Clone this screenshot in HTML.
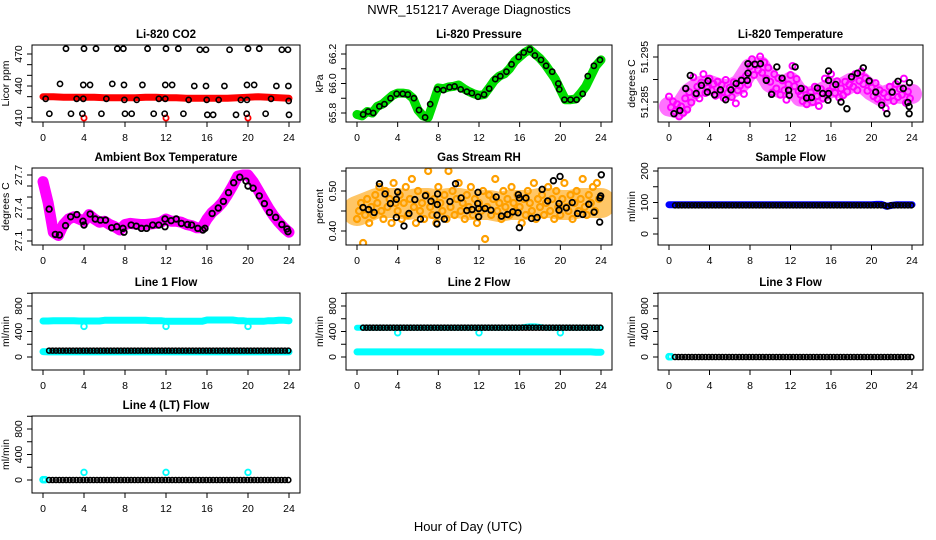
<!DOCTYPE html>
<html><head><meta charset="utf-8"><style>
html,body{margin:0;padding:0;background:#fff;}
svg{display:block;font-family:"Liberation Sans",sans-serif;}
</style></head><body>
<svg id="c" width="936" height="540" viewBox="0 0 936 540" xmlns="http://www.w3.org/2000/svg">
<text x="469" y="14" text-anchor="middle" font-size="13">NWR_151217  Average Diagnostics</text>
<text x="468" y="531" text-anchor="middle" font-size="13">Hour of Day (UTC)</text>
</svg>
<script>
// ---------- data ----------
const xTicks = [0,4,8,12,16,20,24];

const co2TopH = [2.24,4.0,5.17,7.25,7.84,10.2,12.0,13.2,15.3,15.9,18.2,20.0,21.1,23.3,23.9];
const co2TopV = [475,475,475,475,475,475,475,475,474,474,474,475,475,474,474];
const co2HiH = [1.66,3.93,4.59,6.76,7.9,9.7,11.93,12.6,14.76,15.9,17.7,19.9,20.6,22.77,23.94];
const co2HiV = [442,441,441,442,441,441,441,441,440,440,440,441,441,440,440];
const co2MidH = [0.26,3.28,3.93,6.18,7.94,9.14,11.3,11.93,14.21,15.97,17.14,19.3,19.9,22.25,23.97];
const co2MidV = [428,428,428,428,427,427,428,428,427,427,427,427,427,428,426];
const co2LowH = [0.62,2.73,3.84,5.7,8.0,8.65,10.8,11.87,13.7,16.03,16.6,18.83,19.87,21.72,24.0];
const co2LowV = [414,414,414,414,414,414,414,414,414,413,413,413,414,414,413];
const co2RedH = [0,1,2,3,4,5,6,7,8,9,10,11,12,13,14,15,16,17,18,19,20,21,22,23,24];
const co2RedV = [430,430,429.5,429.5,429.5,429.5,429,429,429,429,429.5,429.5,429,429,428.5,428.5,428.5,428.5,428.5,429,429.5,430,429.5,429,428.5];
const co2CalH = [4,12,20];
const co2CalV = [410,410,410];

const presGreen = [65.79,65.78,65.81,65.80,65.845,65.86,65.89,65.92,65.935,65.935,65.93,65.90,65.82,65.78,65.77,65.87,65.97,65.965,65.976,65.98,65.99,65.965,65.946,65.93,65.92,65.925,65.97,66.02,66.05,66.065,66.10,66.15,66.18,66.21,66.23,66.20,66.17,66.13,66.08,66.03,65.96,65.89,65.89,65.895,65.935,65.98,66.05,66.12,66.16];
const presBlkH = [0.6,1.1,1.6,2.2,2.7,3.3,3.9,4.5,5.0,5.6,6.1,6.7,7.2,7.9,8.5,9.1,9.6,10.2,10.8,11.3,11.9,12.5,13.0,13.6,14.1,14.7,15.2,15.9,16.4,17.0,17.5,18.1,18.6,19.2,19.8,19.9,20.4,21.0,21.6,22.2,22.7,23.3,23.9];
const presBlkV = [65.79,65.81,65.80,65.845,65.86,65.90,65.93,65.93,65.925,65.90,65.82,65.77,65.86,65.96,65.955,65.975,65.98,65.96,65.945,65.935,65.91,65.925,65.965,66.03,66.05,66.08,66.13,66.18,66.21,66.23,66.19,66.16,66.12,66.08,66.00,65.96,65.89,65.89,65.89,65.93,66.05,66.12,66.16];

const tempCenter = [51.2840,51.2835,51.2870,51.2885,51.2888,51.2880,51.2878,51.2890,51.2925,51.2930,51.2893,51.2880,51.2895,51.2862,51.2862,51.2870,51.2882,51.2880,51.2893,51.2895,51.2875,51.2862,51.2870,51.2868,51.2868];
const tempPinkV = [51.2862,51.2838,51.2851,51.2829,51.2845,51.2818,51.2840,51.2826,51.2858,51.2833,51.2872,51.2849,51.2905,51.2866,51.2884,51.2858,51.2893,51.2912,51.2870,51.2881,51.2902,51.2876,51.2890,51.2864,51.2895,51.2873,51.2888,51.2859,51.2899,51.2870,51.2882,51.2861,51.2894,51.2847,51.2876,51.2886,51.2900,51.2868,51.2908,51.2889,51.2929,51.2945,51.2910,51.2932,51.2921,51.2951,51.2915,51.2938,51.2902,51.2926,51.2895,51.2871,51.2912,51.2880,51.2903,51.2866,51.2898,51.2876,51.2855,51.2889,51.2910,51.2930,51.2885,51.2901,51.2874,51.2866,51.2852,51.2878,51.2845,51.2862,51.2871,51.2850,51.2884,51.2863,51.2841,51.2879,51.2858,51.2902,51.2866,51.2874,51.2912,51.2885,51.2870,51.2896,51.2860,51.2880,51.2865,51.2895,51.2873,51.2889,51.2901,51.2884,51.2912,51.2876,51.2897,51.2918,51.2890,51.2903,51.2875,51.2894,51.2882,51.2863,51.2892,51.2857,51.2876,51.2849,51.2870,51.2836,51.2861,51.2884,51.2872,51.2852,51.2890,51.2861,51.2879,51.2866,51.2902,51.2848,51.2873,51.2858];
const tempBlkH = [0.49,1.07,1.65,2.10,2.69,3.20,3.85,3.79,4.50,5.08,5.60,6.12,6.63,7.15,7.73,7.80,7.80,8.48,9.03,9.61,10.13,10.65,11.17,11.81,11.88,12.46,13.04,13.59,14.08,14.66,15.18,15.70,15.76,15.76,15.76,16.47,16.99,17.57,18.03,18.61,19.19,19.77,20.42,21.00,21.52,22.04,22.62,23.14,23.59,23.72,23.75,23.72];
const tempBlkV = [51.2824,51.2831,51.2880,51.2909,51.2869,51.2887,51.2897,51.2872,51.2866,51.2877,51.2855,51.2877,51.2891,51.2898,51.2898,51.2914,51.2935,51.2934,51.2935,51.2898,51.2867,51.2928,51.2903,51.2876,51.2865,51.2928,51.2880,51.2859,51.2860,51.2881,51.2869,51.2854,51.2869,51.2898,51.2919,51.2889,51.2850,51.2835,51.2906,51.2914,51.2926,51.2897,51.2872,51.2843,51.2824,51.2872,51.2896,51.2880,51.2849,51.2824,51.2893,51.2840];

const ambPink = [27.64,27.45,27.18,27.15,27.25,27.30,27.32,27.30,27.28,27.34,27.30,27.27,27.28,27.25,27.23,27.20,27.25,27.26,27.255,27.25,27.25,27.255,27.26,27.27,27.30,27.28,27.28,27.27,27.25,27.24,27.22,27.22,27.30,27.36,27.40,27.45,27.52,27.60,27.69,27.70,27.70,27.64,27.56,27.48,27.40,27.33,27.27,27.22,27.18];
const ambBlkH = [0.6,1.2,1.6,2.2,2.7,3.3,3.9,4.0,4.6,5.1,5.6,6.1,6.7,7.2,7.8,7.9,8.6,9.1,9.6,10.1,10.7,11.3,11.9,11.9,12.5,13.0,13.5,14.1,14.5,15.1,15.6,15.8,16.5,17.1,17.6,18.1,18.6,19.2,19.8,20.0,20.5,21.1,21.6,22.1,22.7,23.3,23.8,23.9];
const ambBlkV = [27.39,27.16,27.155,27.24,27.32,27.34,27.28,27.245,27.345,27.30,27.29,27.29,27.22,27.23,27.215,27.18,27.245,27.235,27.215,27.215,27.245,27.245,27.30,27.23,27.285,27.30,27.26,27.25,27.245,27.215,27.20,27.215,27.35,27.40,27.46,27.54,27.63,27.68,27.645,27.60,27.58,27.51,27.44,27.36,27.315,27.25,27.21,27.185];

const rhCenter = [0.45,0.46,0.47,0.47,0.47,0.465,0.47,0.47,0.465,0.47,0.47,0.465,0.465,0.465,0.46,0.465,0.465,0.465,0.47,0.47,0.465,0.465,0.47,0.47,0.47];
const rhOrange = [0.43,0.45,0.47,0.37,0.44,0.48,0.42,0.46,0.44,0.49,0.47,0.51,0.45,0.43,0.50,0.46,0.48,0.42,0.52,0.47,0.45,0.49,0.43,0.47,0.51,0.44,0.48,0.53,0.46,0.42,0.50,0.45,0.47,0.43,0.49,0.55,0.46,0.44,0.48,0.42,0.51,0.47,0.45,0.49,0.43,0.55,0.46,0.50,0.44,0.48,0.52,0.45,0.47,0.43,0.49,0.46,0.51,0.44,0.48,0.42,0.47,0.45,0.50,0.38,0.46,0.49,0.44,0.48,0.53,0.45,0.47,0.43,0.50,0.46,0.48,0.44,0.51,0.47,0.45,0.49,0.46,0.42,0.48,0.44,0.50,0.47,0.45,0.52,0.43,0.48,0.46,0.49,0.44,0.47,0.51,0.45,0.48,0.43,0.50,0.46,0.44,0.48,0.52,0.46,0.45,0.49,0.43,0.47,0.50,0.45,0.48,0.53,0.46,0.44,0.49,0.47,0.51,0.45,0.52,0.48];
const rhBlkH = [0.59,1.14,1.69,2.21,2.76,3.28,3.87,4.0,3.87,4.62,5.11,5.69,6.24,6.73,7.28,7.93,7.90,7.87,7.87,8.59,9.14,9.69,10.24,10.80,11.32,11.90,11.87,11.97,11.97,12.59,13.17,13.69,14.21,14.80,15.32,15.84,15.87,15.97,15.97,16.62,17.17,17.72,18.21,18.76,19.32,19.87,19.87,19.97,20.59,21.17,21.69,22.21,22.80,23.32,23.87,23.90,23.97,24.03];
const rhBlkV = [0.4587,0.4537,0.4463,0.5182,0.4926,0.4686,0.4793,0.4975,0.4339,0.4124,0.4438,0.4785,0.4298,0.4884,0.4744,0.4926,0.4661,0.4397,0.4174,0.4298,0.4736,0.5182,0.4826,0.4512,0.4537,0.4967,0.4686,0.4562,0.4355,0.4562,0.4521,0.4851,0.4372,0.4413,0.4479,0.4455,0.4909,0.4826,0.4083,0.4826,0.4314,0.4339,0.5041,0.4752,0.5256,0.4686,0.4521,0.5364,0.4579,0.4711,0.4438,0.4413,0.4669,0.4471,0.4223,0.4826,0.4876,0.5405];

const sampleBlue = [93,93,93,93,93,93,93,93,93,93,93,93,93,93,93,93,93,93,93,93,93,93,93,93,93,93,93,93,93,93,93,93,93,93,93,93,93,93,93,93,93,94,94,88,91,93,93,93,93];
const sampleBlk = [91,91,91,91,91,91,91,91,91,91,91,91,91,91,91,91,91,91,91,91,91,91,91,91,91,91,91,91,91,91,91,91,91,91,91,91,91,91,91,91,91,91,91,91,91,91,91,91,91,91,91,91,91,91,91,91,91,91,91,91,91,91,91,88,91,91,91,91,91,91,91];

const l1CyanHi = [565,565,570,570,570,570,570,565,565,565,565,565,575,575,575,575,575,575,575,575,575,570,570,570,560,560,560,560,560,560,560,560,580,580,580,580,580,580,570,570,560,560,560,560,570,570,575,575,570];
const l1CyanLo = [85,80,80,80,80,80,80,80,80,80,80,80,80,80,80,80,80,80,80,80,80,80,80,80,80,80,80,80,80,80,80,80,80,80,80,80,80,80,80,80,80,80,80,80,80,80,80,80,80];
const l1Blk = [100,100,100,100,100,100,100,100,100,100,100,100,100,100,100,100,100,100,100,100,100,100,100,100,100,100,100,100,100,100,100,100,100,100,100,100,100,100,100,100,100,100,100,100,100,100,100,100,100,100,100,100,100,100,100,100,100,100,100,100,100,100,100,100,100,100,100,100,100,100,100];
const l1DipV = [480,480,480];

const l2CyanHi = [460,460,460,460,460,460,460,460,460,460,460,460,460,460,460,460,460,460,460,460,460,460,460,460,460,460,460,460,460,460,460,460,460,470,480,480,470,460,460,460,460,460,460,460,460,460,460,460,460];
const l2CyanLo = [80,80,80,80,80,80,80,80,80,80,80,80,80,80,80,80,80,80,80,80,80,80,80,80,80,80,80,80,80,80,80,80,80,80,80,80,80,80,80,80,80,80,80,80,80,80,80,75,75];
const l2Blk = [460,460,460,460,460,460,460,460,460,460,460,460,460,460,460,460,460,460,460,460,460,460,460,460,460,460,460,460,460,460,460,460,460,460,460,460,460,460,460,460,460,460,460,460,460,460,460,460,460,460,460,460,460,460,460,460,460,460,460,460,460,460,460,460,460,460,460,460,460,460,460];
const l2DipV = [380,380,380];

const l3Cyan = [5,5];
const l3Blk = [0,0,0,0,0,0,0,0,0,0,0,0,0,0,0,0,0,0,0,0,0,0,0,0,0,0,0,0,0,0,0,0,0,0,0,0,0,0,0,0,0,0,0,0,0,0,0,0,0,0,0,0,0,0,0,0,0,0,0,0,0,0,0,0,0,0,0,0,0,0,0];
const l4Cyan = [5,5];
const l4Blk = [0,0,0,0,0,0,0,0,0,0,0,0,0,0,0,0,0,0,0,0,0,0,0,0,0,0,0,0,0,0,0,0,0,0,0,0,0,0,0,0,0,0,0,0,0,0,0,0,0,0,0,0,0,0,0,0,0,0,0,0,0,0,0,0,0,0,0,0,0,0,0];
const l4SpikeV = [120,120,120];
const calHours = [4,12,20];

// ---------- drawing ----------
const NS = 'http://www.w3.org/2000/svg';
const svg = document.getElementById('c');
const cols = [[32,300],[346,612],[658,923]];
const rowTops = [45,168,293,416];
const H = 77;
function el(tag, attrs, parent) {
  const e = document.createElementNS(NS, tag);
  for (const k in attrs) e.setAttribute(k, attrs[k]);
  (parent || svg).appendChild(e);
  return e;
}
let clipId = 0;
function panel(key, c, r, title, ylab, v1, p1, v2, p2, yTicks, yLabs) {
  const L = cols[c][0], R = cols[c][1], T = rowTops[r], B = T + H;
  const g = el('g', {});
  
  
  const xs = h => (L + 11) + h * ((R - 11) - (L + 11)) / 24;
  const ys = v => T + p1 + (v - v1) * (p2 - p1) / (v2 - v1);
  const t = el('text', {x: (L + R) / 2, y: T - 7, 'text-anchor': 'middle', 'font-size': 11.5, 'font-weight': 'bold'}, g);
  t.textContent = title;
  
  
  const yl = el('text', {x: L - 23, y: (T + B) / 2, 'text-anchor': 'middle', 'font-size': 10.5, transform: `rotate(-90 ${L - 23} ${(T + B) / 2})`}, g);
  yl.textContent = ylab;
  
  
  const xa = el('g', {stroke: '#000', 'stroke-width': 1}, g);
  
  
  el('line', {x1: xs(0), x2: xs(24), y1: B, y2: B}, xa);
  xTicks.forEach(h => {
    el('line', {x1: xs(h), x2: xs(h), y1: B, y2: B + 5}, xa);
    const tl = el('text', {x: xs(h), y: B + 19, 'text-anchor': 'middle', 'font-size': 10.5, stroke: 'none'}, g);
    tl.textContent = h;
    
    
  });
  const ya = el('g', {stroke: '#000', 'stroke-width': 1}, g);
  
  
  el('line', {x1: L, x2: L, y1: ys(yTicks[0]), y2: ys(yTicks[yTicks.length - 1])}, ya);
  yTicks.forEach(v => el('line', {x1: L - 5, x2: L, y1: ys(v), y2: ys(v)}, ya));
  yLabs.forEach(([v, s]) => {
    const yy = ys(v), xx = L - 10;
    const tl = el('text', {x: xx, y: yy, 'text-anchor': 'middle', 'font-size': 10.5, transform: `rotate(-90 ${xx} ${yy})`}, g);
    tl.textContent = s;
    
    
  });
  const id = 'clip' + (clipId++);
  const cp = el('clipPath', {id: id}, g);
  el('rect', {x: L, y: T, width: R - L, height: H}, cp);
  const plot = el('g', {'clip-path': `url(#${id})`}, g);
  
  
  const box = el('rect', {x: L, y: T, width: R - L, height: H, fill: 'none', stroke: '#000', 'stroke-width': 1}, g);
  
  
  return {plot, xs, ys};
}
function pts(P, hs, vs, color, name, r, sw) {
  const g = el('g', {fill: 'none', stroke: color, 'stroke-width': sw}, P.plot);
  
  
  vs.forEach((v, i) => {
    const c = el('circle', {cx: P.xs(hs[i]), cy: P.ys(v), r: r}, g);
    
    
  });
}
function band(P, hs, vs, color, w, name, op) {
  const d = vs.map((v, i) => (i ? 'L' : 'M') + P.xs(hs[i]).toFixed(1) + ' ' + P.ys(v).toFixed(1)).join(' ');
  const p = el('path', {d: d, fill: 'none', stroke: color, 'stroke-width': w, 'stroke-linejoin': 'round', 'stroke-linecap': 'round', 'stroke-opacity': op || 1}, P.plot);
  
  
}
const idx = (n, step, start) => Array.from({length: n}, (_, i) => start + i * step);
const half = idx(49, 0.5, 0);
const hourly = idx(25, 1, 0);
const blkT = idx(71, 1 / 3, 0.6);

// Panel 1 CO2
let P = panel('co2', 0, 0, 'Li-820 CO2', 'Licor ppm', 410, 73, 470, 9, [410,420,430,440,450,460,470], [[410,'410'],[440,'440'],[470,'470']]);
band(P, co2RedH, co2RedV, '#ff0000', 7, 'co2-red-band');
pts(P, co2CalH, co2CalV, '#ff0000', 'co2-cal', 2.6, 1.8);
pts(P, co2TopH, co2TopV, '#000', 'co2-top', 2.6, 1.6);
pts(P, co2HiH, co2HiV, '#000', 'co2-high', 2.6, 1.6);
pts(P, co2MidH, co2MidV, '#000', 'co2-mid', 2.6, 1.6);
pts(P, co2LowH, co2LowV, '#000', 'co2-low', 2.6, 1.6);

// Panel 2 Pressure
P = panel('pressure', 1, 0, 'Li-820 Pressure', 'kPa', 65.8, 68, 66.2, 9, [65.8,65.9,66.0,66.1,66.2], [[65.8,'65.8'],[66.0,'66.0'],[66.2,'66.2']]);
band(P, half, presGreen, '#00dd00', 9, 'pressure-green-band');
pts(P, presBlkH, presBlkV, '#000', 'pressure-avg', 2.6, 1.6);

// Panel 3 Li-820 Temperature
P = panel('li820-temp', 2, 0, 'Li-820 Temperature', 'degrees C', 51.285, 57, 51.295, 12, [51.285,51.29,51.295], [[51.285,'51.285'],[51.295,'51.295']]);
band(P, hourly, tempCenter, '#ff00ff', 20, 'li820-temp-cloud', 0.55);
pts(P, idx(120, 0.2, 0), tempPinkV, '#ff00ff', 'li820-temp-raw', 3, 2);
pts(P, tempBlkH, tempBlkV, '#000', 'li820-temp-avg', 2.8, 1.8);

// Panel 4 Ambient
P = panel('ambient', 0, 1, 'Ambient Box Temperature', 'degrees C', 27.1, 73, 27.7, 7, [27.1,27.2,27.3,27.4,27.5,27.6,27.7], [[27.1,'27.1'],[27.4,'27.4'],[27.7,'27.7']]);
band(P, half, ambPink, '#ff00ff', 11, 'ambient-raw-band');
pts(P, ambBlkH, ambBlkV, '#000', 'ambient-avg', 2.8, 1.8);

// Panel 5 RH
P = panel('rh', 1, 1, 'Gas Stream RH', 'percent', 0.40, 63, 0.50, 23, [0.40,0.45,0.50,0.55], [[0.40,'0.40'],[0.50,'0.50']]);
band(P, hourly, rhCenter, '#ffa000', 30, 'rh-cloud', 0.6);
pts(P, idx(120, 0.2, 0), rhOrange, '#ffa000', 'rh-raw', 3, 2.2);
pts(P, rhBlkH, rhBlkV, '#000', 'rh-avg', 2.8, 1.8);

// Panel 6 Sample flow
P = panel('sample-flow', 2, 1, 'Sample Flow', 'ml/min', 0, 66, 200, 3, [0,50,100,150,200], [[0,'0'],[100,'100'],[200,'200']]);
band(P, half, sampleBlue, '#0000ff', 7, 'sample-raw-band');
pts(P, blkT, sampleBlk, '#000', 'sample-avg', 2.5, 1.6);

const flowTicks = [0,200,400,600,800,1000];
const flowLabs = [[0,'0'],[400,'400'],[800,'800']];
// Line 1
P = panel('line1', 0, 2, 'Line 1 Flow', 'ml/min', 0, 64, 800, 13, flowTicks, flowLabs);
band(P, half, l1CyanHi, '#00ffff', 7, 'line1-raw-high');
band(P, half, l1CyanLo, '#00ffff', 7, 'line1-raw-low');
pts(P, calHours, l1DipV, '#00ffff', 'line1-cal', 2.8, 1.8);
pts(P, blkT, l1Blk, '#000', 'line1-avg', 2.5, 1.6);
// Line 2
P = panel('line2', 1, 2, 'Line 2 Flow', 'ml/min', 0, 64, 800, 13, flowTicks, flowLabs);
band(P, half, l2CyanHi, '#00ffff', 6, 'line2-raw-high');
band(P, half, l2CyanLo, '#00ffff', 7, 'line2-raw-low');
pts(P, calHours, l2DipV, '#00ffff', 'line2-cal', 2.8, 1.8);
pts(P, blkT, l2Blk, '#000', 'line2-avg', 2.5, 1.6);
// Line 3
P = panel('line3', 2, 2, 'Line 3 Flow', 'ml/min', 0, 64, 800, 13, flowTicks, flowLabs);
pts(P, [0, 0.2], l3Cyan, '#00ffff', 'line3-raw', 2.8, 2);
pts(P, blkT, l3Blk, '#000', 'line3-avg', 2.5, 1.6);
// Line 4
P = panel('line4', 0, 3, 'Line 4 (LT) Flow', 'ml/min', 0, 64, 800, 13, flowTicks, flowLabs);
pts(P, [0, 0.2], l4Cyan, '#00ffff', 'line4-raw', 2.8, 2);
pts(P, calHours, l4SpikeV, '#00ffff', 'line4-cal', 2.8, 1.8);
pts(P, blkT, l4Blk, '#000', 'line4-avg', 2.5, 1.6);
</script>
</body></html>
